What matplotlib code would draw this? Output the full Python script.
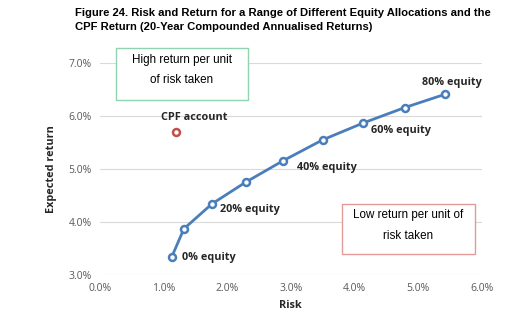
#!/usr/bin/env python3
"""Risk vs return for equity allocations and the CPF account."""
import matplotlib
matplotlib.use("Agg")
import matplotlib.pyplot as plt
from matplotlib.patches import Rectangle
from matplotlib.ticker import FuncFormatter

# values (percent)
equity_share = [0, 10, 20, 30, 40, 50, 60, 70, 80]
risk = [1.13, 1.32, 1.76, 2.29, 2.87, 3.50, 4.14, 4.79, 5.42]
ret = [3.34, 3.87, 4.34, 4.75, 5.15, 5.55, 5.87, 6.16, 6.41]
point_labels = ["0% equity", "", "20% equity", "", "40% equity", "", "60% equity", "", "80% equity"]
cpf_risk, cpf_ret = 1.19, 5.70
x_ticks = [0, 1, 2, 3, 4, 5, 6]
y_ticks = [3, 4, 5, 6, 7]

title = ("Figure 24. Risk and Return for a Range of Different Equity Allocations and the\n"
         "CPF Return (20-Year Compounded Annualised Returns)")

LINE = "#4a7ebb"
RED = "#c0504d"
TXT = "#262626"
TICK = "#595959"
LBL_FONT = ["Open Sans", "DejaVu Sans"]
W, H = 512, 332

fig = plt.figure(figsize=(W / 100, H / 100), dpi=100)
ax = fig.add_axes([0.195, 0.172, 0.746, 0.638])

fig.text(0.146, 1 - 8 / H, title, ha="left", va="top", fontsize=8.1, fontweight="bold",
         family="Liberation Sans", color="black", linespacing=1.45)

ax.plot(risk, ret, color=LINE, lw=2.0, marker="o", ms=5, mfc="white", mec=LINE, mew=1.8,
        zorder=3)
ax.plot([cpf_risk], [cpf_ret], ls="none", marker="o", ms=5, mfc="white", mec=RED, mew=1.8,
        zorder=3)

# (dx, dy) offsets in pixels, alignment
offsets = {
    "0% equity": (10, -1, "left"),
    "20% equity": (8, -6, "left"),
    "40% equity": (14, -6, "left"),
    "60% equity": (8, -8, "left"),
    "80% equity": (7, 12, "center"),
}
for x, y, lab in zip(risk, ret, point_labels):
    if not lab:
        continue
    dx, dy, ha = offsets[lab]
    ax.annotate(lab, (x, y), xytext=(dx, dy), textcoords="offset pixels", ha=ha,
                va="center", fontsize=7.8, fontweight="bold", family=LBL_FONT, color=TXT)
ax.annotate("CPF account", (cpf_risk, cpf_ret), xytext=(19, 14), textcoords="offset pixels",
            ha="center", va="center", fontsize=7.8, fontweight="bold", family=LBL_FONT,
            color=TXT)


def comment_box(x0, y0, x1, y1, lines, ycs, edge):
    fig.add_artist(Rectangle((x0 / W, 1 - y1 / H), (x1 - x0) / W, (y1 - y0) / H,
                             transform=fig.transFigure, fc="white", ec=edge, lw=1.0, zorder=5))
    for s, yc in zip(lines, ycs):
        fig.text((x0 + x1) / 2 / W, 1 - yc / H, s, ha="center", va="center", fontsize=8.4,
                 family="Liberation Sans", color="black", zorder=6)


comment_box(116, 48, 248, 100, ["High return per unit", "of risk taken"], [60, 80], "#8fd3b0")
comment_box(342, 204, 475, 254, ["Low return per unit of", "risk taken"], [215, 236], "#e39a98")

ax.set_xlim(0, 6)
ax.set_ylim(3, 7)
ax.set_xticks(x_ticks)
ax.set_yticks(y_ticks)
pct = FuncFormatter(lambda v, _: f"{v:.1f}%")
ax.xaxis.set_major_formatter(pct)
ax.yaxis.set_major_formatter(pct)
ax.tick_params(length=0, labelsize=7.5, colors=TICK, pad=6)
for t in ax.get_xticklabels() + ax.get_yticklabels():
    t.set_family(LBL_FONT)
ax.grid(axis="y", color="#d9d9d9", lw=0.8)
ax.set_axisbelow(True)
for s in ax.spines.values():
    s.set_visible(False)

ax.set_xlabel("Risk", fontsize=7.8, fontweight="bold", family=LBL_FONT, color=TXT, labelpad=4)
ax.set_ylabel("Expected return", fontsize=7.8, fontweight="bold", family=LBL_FONT, color=TXT,
              labelpad=8)

fig.savefig("out.png", dpi=100)
